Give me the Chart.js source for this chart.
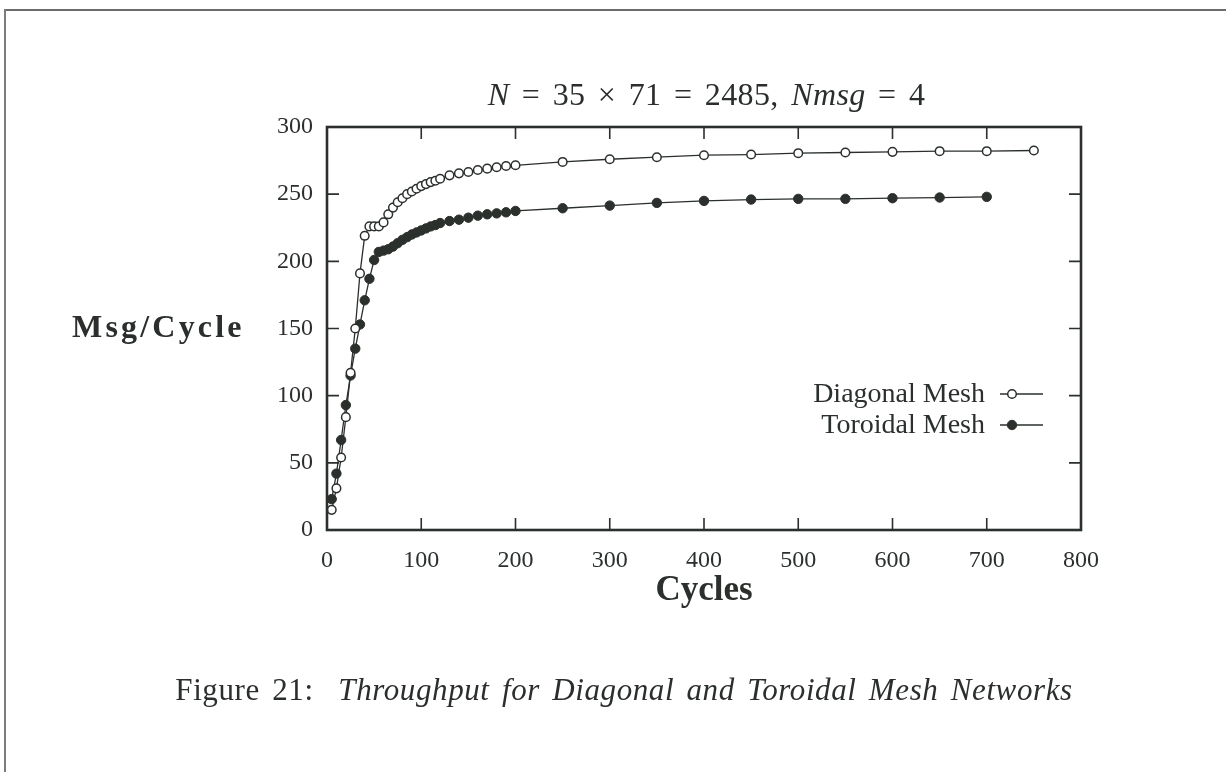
<!DOCTYPE html>
<html>
<head>
<meta charset="utf-8">
<script src="https://cdn.jsdelivr.net/npm/chart.js@4.4.1/dist/chart.umd.min.js"></script>
<style>
  html, body { margin: 0; padding: 0; background: #fff; }
  body { width: 1226px; height: 772px; position: relative; overflow: hidden; font-family: "Liberation Serif", serif; color: #2b2f2c; }
  #frameTop { position: absolute; left: 4px; top: 9px; width: 1222px; height: 2px; background: #6a6d6a; }
  #frameLeft { position: absolute; left: 4px; top: 9px; width: 2px; height: 763px; background: #7a7d7a; }
  #chart { position: absolute; left: 0; top: 0; }
  .txt { position: absolute; white-space: nowrap; }
  #title { left: 0; width: 1413px; top: 76px; text-align: center; font-size: 32px; word-spacing: 4px; letter-spacing: 0.4px; }
  #ylabel { left: 72px; top: 308px; font-size: 32px; font-weight: bold; letter-spacing: 3.2px; }
  #caption { left: 0; width: 1248px; top: 672px; text-align: center; font-size: 31px; letter-spacing: 0.6px; word-spacing: 4px; }
</style>
</head>
<body>
<div id="frameTop"></div>
<div id="frameLeft"></div>
<canvas id="chart" width="1226" height="772"></canvas>
<div id="title" class="txt"><i>N</i> = 35 × 71 = 2485, <i>Nmsg</i> = 4</div>
<div id="ylabel" class="txt">Msg/Cycle</div>
<div id="caption" class="txt">Figure 21:&nbsp; <i>Throughput for Diagonal and Toroidal Mesh Networks</i></div>
<script>
// ---- data ----
const diagonalCycles = [5,10,15,20,25,30,35,40,45,50,55,60,65,70,75,80,85,90,95,100,105,110,115,120,130,140,150,160,170,180,190,200,250,300,350,400,450,500,550,600,650,700,750];
const diagonalMsgs   = [15,31,54,84,117,150,191,219,226,226,226,229,235,240,244,247,250,252,254,256,257.5,259,260,261.5,264,265.5,266.5,268,269,270,271,271.5,274,276,277.5,279,279.5,280.5,281,281.5,282,282,282.5];
const toroidalCycles = [5,10,15,20,25,30,35,40,45,50,55,60,65,70,75,80,85,90,95,100,105,110,115,120,130,140,150,160,170,180,190,200,250,300,350,400,450,500,550,600,650,700];
const toroidalMsgs   = [23,42,67,93,115,135,153,171,187,201,207,208,209,211,213.5,216,218,220,221.5,223,224.5,226,227,228.5,230,231,232.5,234,235,235.7,236.5,237.5,239.5,241.5,243.5,245,246,246.5,246.5,247,247.5,248];
const seriesNames = ["Diagonal Mesh", "Toroidal Mesh"];
const xTickValues = [0,100,200,300,400,500,600,700,800];
const yTickValues = [0,50,100,150,200,250,300];
const xTitle = "Cycles";

const INK = '#2b302d';

const boxAndTicks = {
  id: 'boxAndTicks',
  afterDraw(chart) {
    const ctx = chart.ctx, a = chart.chartArea;
    const xs = chart.scales.x, ys = chart.scales.y;
    ctx.save();
    ctx.strokeStyle = INK;
    ctx.lineWidth = 1.6;
    const tl = 12;
    ctx.beginPath();
    xTickValues.forEach(v => {
      const p = xs.getPixelForValue(v);
      ctx.moveTo(p, a.bottom); ctx.lineTo(p, a.bottom - tl);
      ctx.moveTo(p, a.top); ctx.lineTo(p, a.top + tl);
    });
    yTickValues.forEach(v => {
      const p = ys.getPixelForValue(v);
      ctx.moveTo(a.left, p); ctx.lineTo(a.left + tl, p);
      ctx.moveTo(a.right, p); ctx.lineTo(a.right - tl, p);
    });
    ctx.stroke();
    ctx.lineWidth = 2.6;
    ctx.strokeRect(a.left, a.top, a.right - a.left, a.bottom - a.top);
    // legend
    ctx.font = '28px "Liberation Serif"';
    ctx.fillStyle = INK;
    ctx.textAlign = 'right';
    ctx.textBaseline = 'middle';
    const rows = [394, 425];
    chart.data.datasets.forEach((ds, i) => {
      const y = rows[i];
      ctx.fillText(ds.label, 985, y + 1);
      ctx.lineWidth = 1.4;
      ctx.beginPath(); ctx.moveTo(1000, y); ctx.lineTo(1043, y); ctx.stroke();
      ctx.beginPath(); ctx.arc(1012, y, ds.pointRadius, 0, Math.PI * 2);
      ctx.fillStyle = ds.pointBackgroundColor; ctx.fill();
      ctx.lineWidth = ds.pointBorderWidth; ctx.strokeStyle = ds.pointBorderColor; ctx.stroke();
      ctx.fillStyle = INK; ctx.strokeStyle = INK;
    });
    ctx.restore();
  }
};

new Chart(document.getElementById('chart'), {
  type: 'line',
  data: {
    datasets: [
      {
        label: seriesNames[0],
        data: diagonalCycles.map((x, i) => ({ x, y: diagonalMsgs[i] })),
        borderColor: INK, borderWidth: 1.3,
        pointRadius: 4.3, pointBorderWidth: 1.5,
        pointBackgroundColor: '#ffffff', pointBorderColor: INK,
        tension: 0, fill: false
      },
      {
        label: seriesNames[1],
        data: toroidalCycles.map((x, i) => ({ x, y: toroidalMsgs[i] })),
        borderColor: INK, borderWidth: 1.3,
        pointRadius: 4.7, pointBorderWidth: 1,
        pointBackgroundColor: INK, pointBorderColor: INK,
        tension: 0, fill: false
      }
    ]
  },
  options: {
    responsive: false,
    animation: false,
    devicePixelRatio: 1,
    layout: { padding: { left: 250, right: 145, top: 127, bottom: 150 } },
    plugins: { legend: { display: false }, tooltip: { enabled: false }, title: { display: false } },
    scales: {
      x: {
        type: 'linear', min: 0, max: 800,
        afterBuildTicks: s => { s.ticks = xTickValues.map(v => ({ value: v })); },
        afterFit: s => { s.height = 92; },
        grid: { display: false }, border: { display: false },
        ticks: { color: INK, padding: 8, maxRotation: 0, font: { family: 'Liberation Serif', size: 24 } },
        title: { display: true, text: xTitle, color: INK, font: { family: 'Liberation Serif', size: 35, weight: 'bold' }, padding: { top: 0, bottom: 10 } }
      },
      y: {
        type: 'linear', min: 0, max: 300,
        afterBuildTicks: s => { s.ticks = yTickValues.map(v => ({ value: v })); },
        afterFit: s => { s.width = 77; },
        grid: { display: false }, border: { display: false },
        ticks: { color: INK, padding: 6, font: { family: 'Liberation Serif', size: 24 } }
      }
    }
  },
  plugins: [boxAndTicks]
});
</script>
</body>
</html>
